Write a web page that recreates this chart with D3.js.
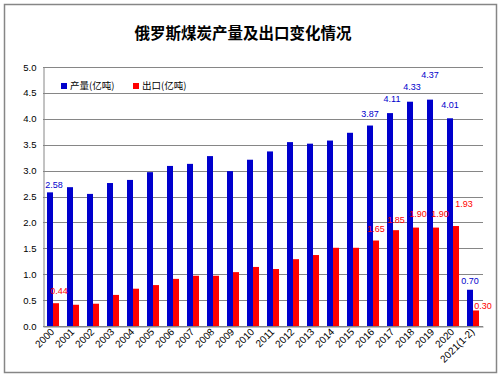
<!DOCTYPE html>
<html>
<head>
<meta charset="utf-8">
<script src="https://cdn.jsdelivr.net/npm/d3@7"></script>
<style>
  html, body { margin: 0; padding: 0; background: #fff; }
  svg { display: block; }
</style>
</head>
<body>
<div id="chart"></div>
<script>
// Russian coal output and exports, 100 million tonnes

const years = ['2000','2001','2002','2003','2004','2005','2006','2007','2008','2009','2010',
               '2011','2012','2013','2014','2015','2016','2017','2018','2019','2020','2021(1-2)']
const output  = [2.58, 2.68, 2.55, 2.76, 2.82, 2.97, 3.09, 3.13, 3.28, 2.99, 3.21,
                 3.37, 3.55, 3.52, 3.58, 3.73, 3.87, 4.11, 4.33, 4.37, 4.01, 0.70]
const exports = [0.44, 0.41, 0.43, 0.60, 0.72, 0.79, 0.91, 0.97, 0.97, 1.04, 1.14,
                 1.10, 1.29, 1.37, 1.51, 1.51, 1.65, 1.85, 1.90, 1.90, 1.93, 0.30]
const seriesNames = ['产量(亿吨)', '出口(亿吨)']
const yTicks = [0, 0.5, 1, 1.5, 2, 2.5, 3, 3.5, 4, 4.5, 5]
const labelled = [0, 16, 17, 18, 19, 20, 21] // which years carry value labels

// label nudges [dx, dy] relative to the top centre of each bar
const nudgeOut = {0:[4,-8], 16:[0,-12], 17:[2,-14], 18:[2,-15], 19:[0,-25], 20:[0,-13], 21:[0,-9]}
const nudgeExp = {0:[3,-12], 16:[0,-12], 17:[0,-10], 18:[2,-14], 19:[4,-14], 20:[8,-22], 21:[7,-5]}

const W = 503, H = 378
const ML = 43, MR = 20, MT = 67, MB = 52 // plot area margins
const BLUE = '#0000cc', RED = '#ff0000', GRID = '#868686'
const FONT = '"Liberation Sans", Arial, sans-serif'
const CJK = '"Noto Sans CJK SC", sans-serif'

const svg = d3.select('#chart').append('svg').attr('width', W).attr('height', H)

// outer frame
svg.append('rect').attr('x', 4.5).attr('y', 4.5).attr('width', 492).attr('height', 368)
  .attr('fill', '#fff').attr('stroke', GRID).attr('stroke-width', 1.5)

svg.append('text').attr('x', 243).attr('y', 39).attr('text-anchor', 'middle')
  .attr('font-family', CJK).attr('font-weight', 'bold').attr('font-size', 15.5)
  .text('俄罗斯煤炭产量及出口变化情况')

const x  = d3.scaleBand(years, [ML, W - MR]).paddingInner(0.4).paddingOuter(0.2)
const x1 = d3.scaleBand([0, 1], [0, x.bandwidth()])
const y  = d3.scaleLinear([0, 5], [H - MB, MT])

// grid
svg.append('g').selectAll('line').data(yTicks).join('line')
  .attr('x1', ML).attr('x2', W - MR)
  .attr('y1', d => Math.round(y(d)) + 0.5).attr('y2', d => Math.round(y(d)) + 0.5)
  .attr('stroke', GRID).attr('stroke-width', 1)

// y axis
const yAx = svg.append('g').attr('transform', `translate(${ML + 0.5},0)`)
  .call(d3.axisLeft(y).tickValues(yTicks).tickFormat(d3.format('.1f')).tickSize(0).tickPadding(7))
yAx.select('.domain').attr('stroke', GRID)
yAx.selectAll('text').attr('font-family', FONT).attr('font-size', 9.5).attr('fill', '#000')

// bars
const series = [output, exports]
const colors = [BLUE, RED]
series.forEach((vals, s) => {
  svg.append('g').selectAll('rect').data(vals).join('rect')
    .attr('x', (d, i) => x(years[i]) + x1(s))
    .attr('width', x1.bandwidth())
    .attr('y', d => y(d))
    .attr('height', d => y(0) - y(d))
    .attr('fill', colors[s])
})

// x axis
const xAx = svg.append('g').attr('transform', `translate(0,${Math.round(y(0)) + 0.5})`)
  .call(d3.axisBottom(x).tickSize(0).tickPadding(0))
xAx.select('.domain').attr('stroke', GRID)
xAx.selectAll('text')
  .attr('font-family', FONT).attr('font-size', 10).attr('fill', '#000')
  .attr('text-anchor', 'end').attr('dy', 0)
  .attr('transform', 'translate(2,6) rotate(-45)')

// value labels
const fmt = d3.format('.2f')
;[[output, nudgeOut, BLUE, 0], [exports, nudgeExp, RED, 1]].forEach(([vals, nudge, col, s]) => {
  svg.append('g').selectAll('text').data(labelled).join('text')
    .attr('x', i => x(years[i]) + x1(s) + x1.bandwidth() / 2 + nudge[i][0])
    .attr('y', i => y(vals[i]) + nudge[i][1])
    .attr('dy', '0.35em').attr('text-anchor', 'middle')
    .attr('font-family', FONT).attr('font-size', 9).attr('fill', col)
    .text(i => fmt(vals[i]))
})

// legend
const lg = svg.append('g')
seriesNames.forEach((name, s) => {
  const lx = 61 + s * 72
  lg.append('rect').attr('x', lx).attr('y', 83).attr('width', 6).attr('height', 6).attr('fill', colors[s])
  lg.append('text').attr('x', lx + 9).attr('y', 86).attr('dy', '0.35em')
    .attr('font-family', CJK).attr('font-size', 9.5).attr('fill', '#000').text(name)
})
</script>
</body>
</html>
